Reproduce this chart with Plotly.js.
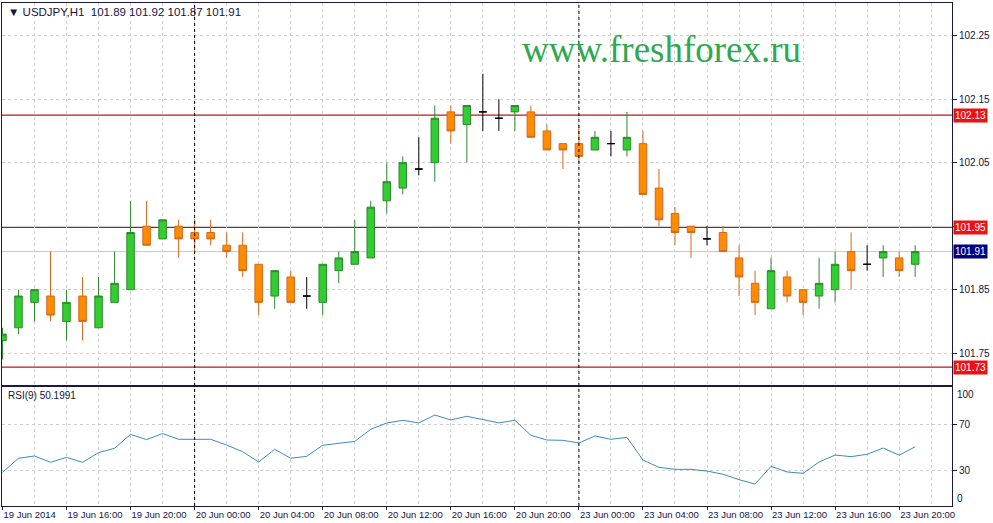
<!DOCTYPE html>
<html>
<head>
<meta charset="utf-8">
<script src="https://cdn.plot.ly/plotly-3.0.1.min.js"></script>
<style>html,body{margin:0;padding:0;background:#fff;}#chart{width:993px;height:523px;}</style>
</head>
<body>
<div id="chart"></div>
<script>
// ---- data (USDJPY H1, one bar per hour from 19 Jun 2014 12:00) ----
const openP  = [101.77,101.79,101.83,101.84,101.80,101.84,101.79,101.83,101.85,101.95,101.93,101.95,101.94,101.94,101.92,101.92,101.89,101.84,101.87,101.84,
                101.83,101.88,101.89,101.90,101.99,102.01,102.04,102.05,102.13,102.11,102.13,102.12,102.13,102.13,102.10,102.08,102.08,102.07,102.08,102.07,
                102.08,102.01,101.97,101.95,101.93,101.94,101.90,101.86,101.82,101.87,101.85,101.84,101.85,101.91,101.89,101.90,101.90,101.89];
const highP  = [101.79,101.85,101.85,101.91,101.85,101.87,101.87,101.91,101.99,101.99,101.96,101.96,101.96,101.96,101.94,101.94,101.89,101.88,101.88,101.87,
                101.89,101.91,101.96,101.99,102.05,102.06,102.09,102.14,102.14,102.14,102.19,102.15,102.14,102.14,102.11,102.08,102.11,102.10,102.10,102.13,
                102.10,102.04,101.98,101.95,101.95,101.95,101.92,101.88,101.90,101.88,101.85,101.90,101.91,101.94,101.92,101.92,101.91,101.92];
const lowP   = [101.74,101.78,101.80,101.80,101.77,101.77,101.79,101.83,101.85,101.92,101.93,101.90,101.91,101.92,101.90,101.87,101.81,101.82,101.83,101.82,
                101.81,101.86,101.89,101.90,101.97,102.00,102.03,102.02,102.08,102.05,102.10,102.10,102.10,102.09,102.07,102.04,102.05,102.07,102.06,102.06,
                102.00,101.95,101.92,101.90,101.92,101.91,101.84,101.81,101.82,101.83,101.81,101.82,101.83,101.85,101.88,101.87,101.87,101.87];
const closeP = [101.78,101.84,101.85,101.81,101.83,101.80,101.84,101.86,101.94,101.92,101.96,101.93,101.93,101.93,101.91,101.88,101.83,101.88,101.83,101.84,
                101.89,101.90,101.91,101.98,102.02,102.05,102.04,102.12,102.10,102.14,102.13,102.12,102.14,102.09,102.07,102.07,102.06,102.09,102.08,102.09,
                102.00,101.96,101.94,101.94,101.93,101.91,101.87,101.83,101.88,101.84,101.83,101.86,101.89,101.88,101.89,101.91,101.88,101.91];
const rsi9   = [28.0,40.2,42.2,36.7,41.0,36.7,45.1,48.9,61.0,56.4,61.7,56.7,56.7,56.7,51.7,45.9,37.0,48.0,40.2,41.9,
                51.5,53.5,54.9,65.4,70.9,73.2,70.9,77.8,73.5,76.7,74.1,71.0,73.2,60.2,56.1,55.8,53.5,59.6,56.7,58.4,
                38.7,32.3,30.6,30.6,29.1,26.3,21.6,17.8,33.2,28.3,27.1,37.0,43.0,41.6,43.7,49.1,42.9,50.2];
const tickIdx    = [0,4,8,12,16,20,24,28,32,36,40,44,48,52,56];
const tickLabels = ["19 Jun 2014","19 Jun 16:00","19 Jun 20:00","20 Jun 00:00","20 Jun 04:00","20 Jun 08:00","20 Jun 12:00",
                    "20 Jun 16:00","20 Jun 20:00","23 Jun 00:00","23 Jun 04:00","23 Jun 08:00","23 Jun 12:00","23 Jun 16:00","23 Jun 20:00"];
const dayBreaks   = [12, 36];
const levels      = [102.125, 101.948, 101.728];
const levelLabels = ["102.13", "101.95", "101.73"];
const priceTicks  = [101.75, 101.85, 101.95, 102.05, 102.15, 102.25];
const priceTickText = ["101.75", "101.85", "", "102.05", "102.15", "102.25"];
const rsiTicks    = [30, 70];
const symbol = "USDJPY,H1";
const rsiLabel = "RSI(9) 50.1991";

// ---- build ----
const idx = openP.map((_, i) => i);
function pick(cond) {
  const s = {x: [], o: [], h: [], l: [], c: []};
  idx.forEach(i => { if (cond(openP[i], closeP[i])) { s.x.push(i); s.o.push(openP[i]); s.h.push(highP[i]); s.l.push(lowP[i]); s.c.push(closeP[i]); } });
  return s;
}
function candle(s, lineCol, fillCol) {
  return {type: 'candlestick', x: s.x, open: s.o, high: s.h, low: s.l, close: s.c, xaxis: 'x', yaxis: 'y',
    increasing: {line: {color: lineCol, width: 1}, fillcolor: fillCol},
    decreasing: {line: {color: lineCol, width: 1}, fillcolor: fillCol},
    whiskerwidth: 0, showlegend: false, hoverinfo: 'skip'};
}
const up = pick((o, c) => c > o), dn = pick((o, c) => c < o), dj = pick((o, c) => c === o);
const traces = [
  candle(up, '#2b8a2b', '#33cc33'),
  candle(dn, '#d2691e', '#ff8c00'),
  candle(dj, '#000000', '#000000'),
  {type: 'scatter', mode: 'lines', x: idx, y: rsi9, xaxis: 'x2', yaxis: 'y2',
   line: {color: '#3a8cc0', width: 1}, showlegend: false, hoverinfo: 'skip'}
];

const txtCol = '#14143c';
const gridCol = '#cfcfcf';
const frameCol = '#1a1a40';
const fontBase = {family: 'Liberation Sans, Arial, sans-serif', size: 10, color: txtCol};
const xRange = [-0.03, 59.3];
const last = closeP.length - 1;

const shapes = [];
dayBreaks.forEach(d => shapes.push({type: 'line', xref: 'x', yref: 'paper', x0: d, x1: d, y0: 0, y1: 1,
  line: {color: '#000', width: 1, dash: 'dot'}, layer: 'above'}));
levels.forEach(v => shapes.push({type: 'line', xref: 'paper', yref: 'y', x0: 0, x1: 1, y0: v, y1: v,
  line: {color: '#b81818', width: 1.2}, layer: 'between'}));
shapes.push({type: 'line', xref: 'paper', yref: 'y', x0: 0, x1: 1, y0: closeP[last], y1: closeP[last],
  line: {color: '#c8c8c8', width: 1}, layer: 'between'});

const annotations = [];
levels.forEach((v, i) => annotations.push({xref: 'paper', yref: 'y', x: 1, y: v, xanchor: 'left', xshift: 1,
  text: levelLabels[i], showarrow: false, bgcolor: '#ee1111', borderpad: 1,
  font: {family: fontBase.family, size: 10, color: '#ffffff'}}));
annotations.push({xref: 'paper', yref: 'y', x: 1, y: closeP[last], xanchor: 'left', xshift: 1,
  text: closeP[last].toFixed(2), showarrow: false, bgcolor: '#000080', borderpad: 1,
  font: {family: fontBase.family, size: 10, color: '#ffffff'}});
annotations.push({xref: 'paper', yref: 'paper', x: 0.004, y: 0.982, xanchor: 'left', yanchor: 'middle',
  text: '\u25BC ' + symbol + '  ' + [openP[last], highP[last], lowP[last], closeP[last]].map(v => v.toFixed(2)).join(' '),
  showarrow: false, font: {family: fontBase.family, size: 11.5, color: txtCol}});
annotations.push({xref: 'paper', yref: 'paper', x: 0.6944, y: 0.9085, xanchor: 'center', yanchor: 'middle',
  text: 'www.freshforex.ru', showarrow: false,
  font: {family: 'Liberation Serif, Times New Roman, serif', size: 37, color: '#2fa84f'}});
annotations.push({xref: 'paper', yref: 'paper', x: 0.004, y: 0.2187, xanchor: 'left', yanchor: 'middle',
  text: rsiLabel, showarrow: false, font: {family: fontBase.family, size: 10, color: txtCol}});
[[100, 96], [0, 4.8]].forEach(p => annotations.push({xref: 'paper', yref: 'y2', x: 1, y: p[1], xanchor: 'left', xshift: 3,
  text: String(p[0]), showarrow: false, font: fontBase}));

const layout = {
  width: 993, height: 523,
  margin: {l: 2, r: 41, t: 3, b: 17, pad: 0},
  paper_bgcolor: '#ffffff', plot_bgcolor: '#ffffff',
  font: fontBase,
  showlegend: false,
  boxgap: 0.33,
  xaxis: {domain: [0, 1], anchor: 'y', range: xRange, type: 'linear',
    tickmode: 'array', tickvals: tickIdx, showticklabels: false, ticks: '',
    showgrid: true, gridcolor: gridCol, griddash: '3px,3px', gridwidth: 1,
    minor: {tickmode: 'linear', tick0: 0, dtick: 2, showgrid: true, gridcolor: gridCol, griddash: '3px,3px', ticks: ''},
    zeroline: false, showline: true, mirror: true, linecolor: frameCol, linewidth: 1,
    rangeslider: {visible: false}, fixedrange: true},
  yaxis: {domain: [0.2406, 1], anchor: 'x', side: 'right', range: [101.6999, 102.3015],
    tickmode: 'array', tickvals: priceTicks, ticktext: priceTickText, ticks: 'outside', ticklen: 4, tickcolor: frameCol,
    showgrid: true, gridcolor: gridCol, griddash: '3px,3px', zeroline: false,
    showline: true, mirror: true, linecolor: frameCol, linewidth: 1, tickfont: fontBase},
  xaxis2: {domain: [0, 1], anchor: 'y2', matches: 'x', range: xRange, type: 'linear',
    tickmode: 'array', tickvals: tickIdx, ticktext: tickLabels, ticks: 'outside', ticklen: 3, tickcolor: frameCol,
    ticklabelposition: 'outside right', tickangle: 0, automargin: false,
    tickfont: {family: fontBase.family, size: 9.5, color: txtCol},
    showgrid: true, gridcolor: gridCol, griddash: '3px,3px',
    minor: {tickmode: 'linear', tick0: 0, dtick: 2, showgrid: true, gridcolor: gridCol, griddash: '3px,3px', ticks: ''},
    zeroline: false, showline: true, mirror: true, linecolor: frameCol, linewidth: 1,
    rangeslider: {visible: false}},
  yaxis2: {domain: [0, 0.2366], anchor: 'x2', side: 'right', range: [-1.3, 102.2],
    tickmode: 'array', tickvals: rsiTicks, ticks: 'outside', ticklen: 4, tickcolor: frameCol,
    showgrid: true, gridcolor: gridCol, griddash: '3px,3px', zeroline: false,
    showline: true, mirror: true, linecolor: frameCol, linewidth: 1, tickfont: fontBase},
  shapes: shapes,
  annotations: annotations
};

Plotly.newPlot('chart', traces, layout, {displayModeBar: false, staticPlot: true});
</script>
</body>
</html>
